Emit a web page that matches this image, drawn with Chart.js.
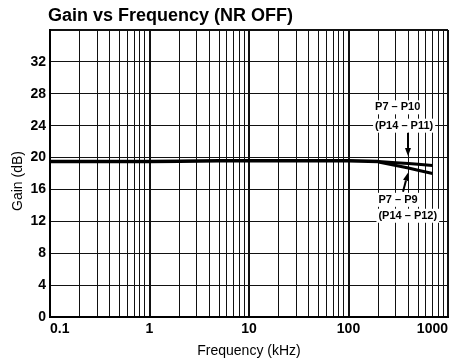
<!DOCTYPE html>
<html>
<head>
<meta charset="utf-8">
<script src="https://cdn.jsdelivr.net/npm/chart.js@4.4.0/dist/chart.umd.min.js"></script>
<style>
body { margin: 0; background: #fff; }
</style>
</head>
<body>
<canvas id="chart" width="456" height="363"></canvas>
<script>
// flat part, both paths together
let freqs = [0.1, 0.2, 0.5, 1, 2, 5, 10, 20, 50, 100, 200];
let gainCommon = [19.5, 19.5, 19.5, 19.5, 19.55, 19.6, 19.6, 19.6, 19.6, 19.6, 19.5];
// top end, paths split
let freqsHigh = [200, 300, 400, 500, 700];
let gainP10 = [19.5, 19.35, 19.25, 19.15, 19.0];
let gainP9 = [19.45, 19.0, 18.7, 18.4, 18.0];

let xTickValues = [0.1, 1, 10, 100, 1000];
let yTickValues = [0, 4, 8, 12, 16, 20, 24, 28, 32];

// callouts, in data units (kHz, dB)
let notes = [
    { lines: ['P7 – P10', '(P14 – P11)'], freq: 185, gains: [26.3, 24.0], tail: [396, 23.1], tip: [396, 20.2] },
    { lines: ['P7 – P9', '(P14 – P12)'], freq: 200, gains: [14.7, 12.7], tail: [353, 15.7], tip: [396, 18.1] }
];

const FONT = '"Liberation Sans", Arial, sans-serif';

function toPoints(xs, ys) {
    let pts = [];
    for (let i = 0; i < xs.length; i++) {
        pts.push({ x: xs[i], y: ys[i] });
    }
    return pts;
}

function isDecade(v) {
    return xTickValues.includes(v);
}

function drawArrow(ctx, x1, y1, x2, y2) {
    let a = Math.atan2(y2 - y1, x2 - x1);
    let len = 8, half = 3;
    let bx = x2 - len * Math.cos(a), by = y2 - len * Math.sin(a);
    ctx.lineWidth = 2;
    ctx.beginPath();
    ctx.moveTo(x1, y1);
    ctx.lineTo(bx, by);
    ctx.stroke();
    ctx.beginPath();
    ctx.moveTo(x2, y2);
    ctx.lineTo(bx + half * Math.sin(a), by - half * Math.cos(a));
    ctx.lineTo(bx - half * Math.sin(a), by + half * Math.cos(a));
    ctx.closePath();
    ctx.fill();
}

const textPlugin = {
    id: 'textPlugin',
    afterDatasetsDraw(chart) {
        const ctx = chart.ctx;
        const xs = chart.scales.x, ys = chart.scales.y;
        ctx.save();
        ctx.fillStyle = '#000';
        ctx.strokeStyle = '#000';
        ctx.font = 'bold 11px ' + FONT;
        ctx.textBaseline = 'middle';
        ctx.textAlign = 'left';
        notes.forEach(n => {
            let px = xs.getPixelForValue(n.freq);
            n.lines.forEach((t, i) => {
                let py = ys.getPixelForValue(n.gains[i]);
                let w = ctx.measureText(t).width;
                ctx.fillStyle = '#fff';
                ctx.fillRect(px - 2, py - 7, w + 4, 14);
                ctx.fillStyle = '#000';
                ctx.fillText(t, px, py);
            });
            drawArrow(ctx,
                xs.getPixelForValue(n.tail[0]), ys.getPixelForValue(n.tail[1]),
                xs.getPixelForValue(n.tip[0]), ys.getPixelForValue(n.tip[1]));
        });
        ctx.restore();
    },
    afterDraw(chart) {
        const ctx = chart.ctx;
        ctx.save();
        ctx.fillStyle = '#000';
        ctx.font = 'bold 18px ' + FONT;
        ctx.textAlign = 'left';
        ctx.textBaseline = 'alphabetic';
        ctx.fillText('Gain vs Frequency (NR OFF)', 48, 21);
        // y axis title
        ctx.font = '14px ' + FONT;
        ctx.translate(18, 181);
        ctx.rotate(-Math.PI / 2);
        ctx.textAlign = 'center';
        ctx.textBaseline = 'middle';
        ctx.fillText('Gain (dB)', 0, 0);
        ctx.restore();
    }
};

const ctx = document.getElementById('chart');

new Chart(ctx, {
    type: 'line',
    data: {
        datasets: [{
            label: 'common',
            data: toPoints(freqs, gainCommon),
            borderColor: '#000',
            borderWidth: 3.5,
            pointRadius: 0
        }, {
            label: 'P7-P10',
            data: toPoints(freqsHigh, gainP10),
            borderColor: '#000',
            borderWidth: 3,
            pointRadius: 0
        }, {
            label: 'P7-P9',
            data: toPoints(freqsHigh, gainP9),
            borderColor: '#000',
            borderWidth: 3,
            pointRadius: 0
        }]
    },
    options: {
        responsive: false,
        animation: false,
        layout: { padding: { top: 30, right: 8, left: 0, bottom: 0 } },
        plugins: {
            legend: { display: false },
            tooltip: { enabled: false }
        },
        scales: {
            x: {
                type: 'logarithmic',
                min: 0.1,
                max: 1000,
                afterBuildTicks: function (scale) {
                    let t = [];
                    for (let d = 0; d < 4; d++) {
                        for (let m = 1; m < 10; m++) {
                            t.push({ value: +(m * Math.pow(10, d - 1)).toPrecision(3) });
                        }
                    }
                    t.push({ value: 1000 });
                    scale.ticks = t;
                },
                afterFit: function (scale) { scale.height = 46; },
                grid: {
                    color: '#111',
                    lineWidth: c => (c.tick && isDecade(c.tick.value)) ? 2 : 1,
                    drawTicks: false
                },
                border: { color: '#000', width: 2 },
                ticks: {
                    autoSkip: false,
                    maxRotation: 0,
                    align: 'inner',
                    padding: 4,
                    color: '#000',
                    font: { family: FONT, size: 14, weight: 'bold' },
                    callback: v => isDecade(v) ? String(v) : ''
                },
                title: {
                    display: true,
                    text: 'Frequency (kHz)',
                    color: '#000',
                    font: { family: FONT, size: 14 },
                    padding: { top: 0, bottom: 3 }
                }
            },
            y: {
                min: 0,
                max: 36,
                afterFit: function (scale) { scale.width = 50; },
                grid: {
                    color: '#111',
                    lineWidth: c => (c.tick && (c.tick.value === 36)) ? 2 : 1,
                    drawTicks: false
                },
                border: { color: '#000', width: 2 },
                ticks: {
                    stepSize: 2,
                    padding: 4,
                    color: '#000',
                    font: { family: FONT, size: 14, weight: 'bold' },
                    callback: v => yTickValues.includes(v) ? String(v) : ''
                }
            }
        }
    },
    plugins: [textPlugin]
});
</script>
</body>
</html>
